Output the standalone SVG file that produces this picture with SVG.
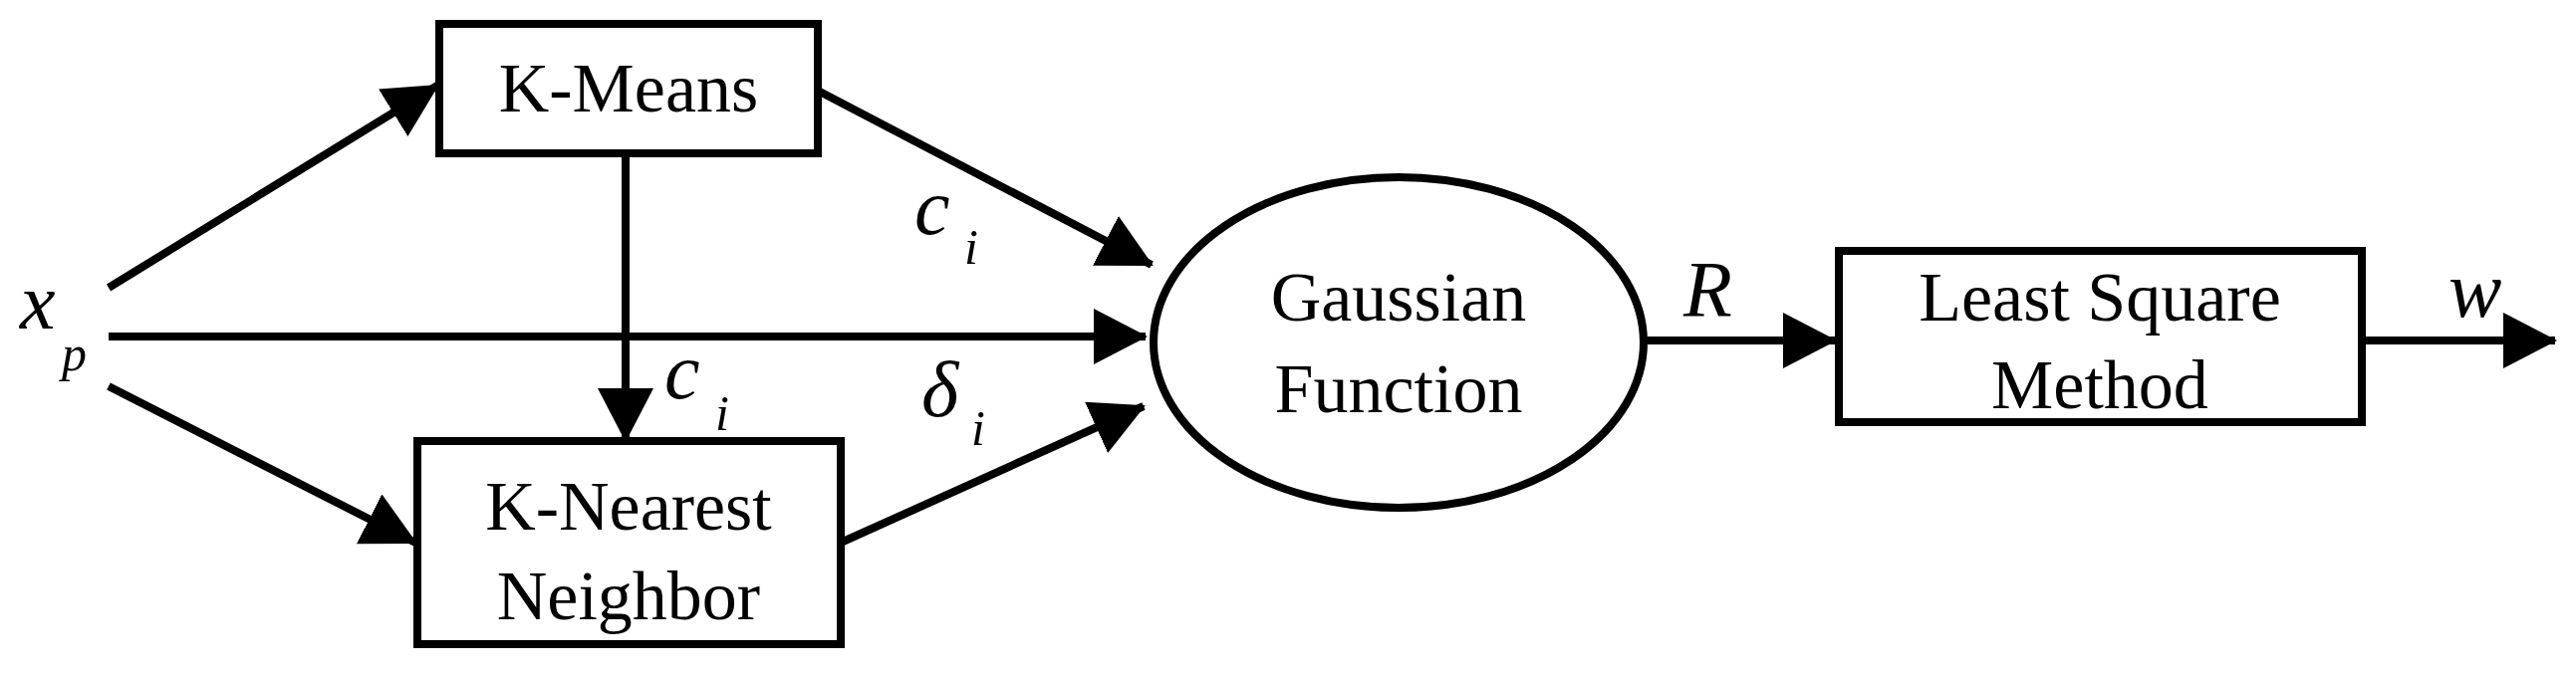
<svg xmlns="http://www.w3.org/2000/svg" width="2586" height="680" viewBox="0 0 2586 680">
<style>
.box{fill:#fff;stroke:#000;stroke-width:8}
.ln{stroke:#000;stroke-width:8;fill:none;marker-end:url(#ah)}
.t{font-family:"Liberation Serif",serif;font-size:70px;text-anchor:middle}
.m{font-family:"Liberation Serif",serif;font-style:italic;font-size:80px}
.s{font-size:50px}
</style>
<defs>
<marker id="ah" markerUnits="userSpaceOnUse" markerWidth="60" markerHeight="60" refX="52" refY="28" orient="auto"><path d="M0,0 L54,28 L0,56 Z" fill="#000"/></marker>
</defs>
<rect width="2586" height="680" fill="#fff"/>
<g id="connectors">
<line class="ln" x1="109" y1="289" x2="439" y2="86"/>
<line class="ln" x1="109" y1="388" x2="417" y2="545"/>
<line class="ln" x1="109" y1="338" x2="1150" y2="338"/>
<line class="ln" x1="628" y1="155" x2="628" y2="442"/>
<line class="ln" x1="821" y1="91" x2="1156" y2="266"/>
<line class="ln" x1="844" y1="545" x2="1148" y2="408"/>
<line class="ln" x1="1650" y1="342" x2="1842" y2="342"/>
<line class="ln" x1="2371" y1="342" x2="2565" y2="342"/>
</g>
<g id="kmeans"><rect class="box" x="441" y="24" width="380" height="130"/><text class="t" x="631" y="112">K-Means</text></g>
<g id="knn"><rect class="box" x="419" y="443" width="425" height="204"/><text class="t" x="631" y="532">K-Nearest</text><text class="t" x="631" y="622">Neighbor</text></g>
<g id="gaussian"><ellipse class="box" cx="1404" cy="344" rx="246" ry="166"/><text class="t" x="1404" y="322">Gaussian</text><text class="t" x="1404" y="414">Function</text></g>
<g id="lsm"><rect class="box" x="1846" y="252" width="525" height="172"/><text class="t" x="2108" y="322">Least Square</text><text class="t" x="2108" y="410">Method</text></g>
<g id="labels">
<text class="m" x="20" y="330">x</text><text class="m s" x="62" y="372">p</text>
<text class="m" x="918" y="235">c</text><text class="m s" x="968" y="265">i</text>
<text class="m" x="667" y="400">c</text><text class="m s" x="718" y="432">i</text>
<text class="m" x="925" y="418">δ</text><text class="m s" x="975" y="447">i</text>
<text class="m" x="1690" y="318">R</text>
<text class="m" x="2458" y="318">w</text>
</g>
</svg>
